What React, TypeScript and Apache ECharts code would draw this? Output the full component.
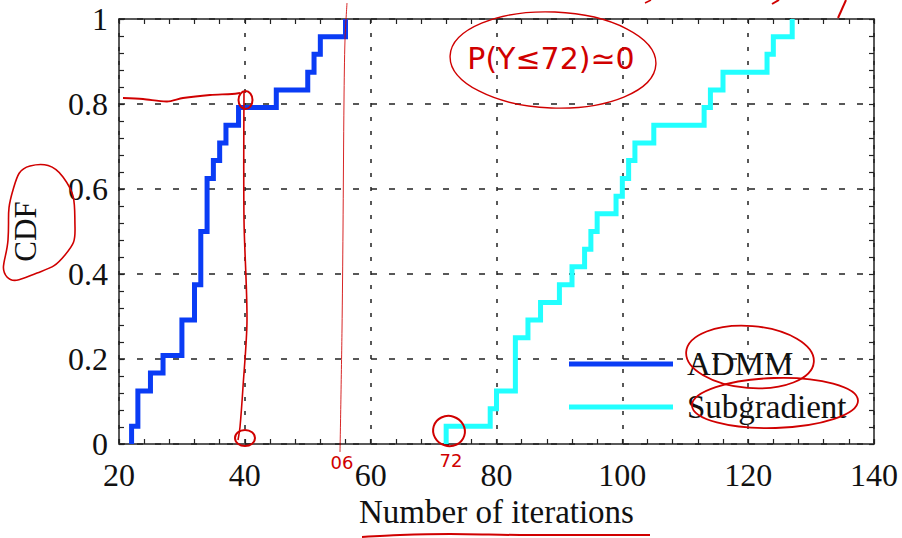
import React, { useEffect, useRef } from "react";
import * as echarts from "echarts";

// ---- data ----
const admmX = [22, 23, 25, 27, 30, 32, 33, 34, 35, 36, 37, 39, 45, 50, 51, 52, 56];
const admmCDF = [0.042, 0.125, 0.167, 0.208, 0.292, 0.375, 0.5, 0.625, 0.667, 0.708, 0.75, 0.792, 0.833, 0.875, 0.917, 0.958, 1];
const subX = [72, 79, 80, 83, 85, 87, 90, 92, 94, 95, 96, 99, 100, 101, 102, 105, 113, 114, 116, 123, 124, 127];
const subCDF = [0.042, 0.083, 0.125, 0.25, 0.292, 0.333, 0.375, 0.417, 0.458, 0.5, 0.542, 0.583, 0.625, 0.667, 0.708, 0.75, 0.792, 0.833, 0.875, 0.917, 0.958, 1];
const seriesNames = ["ADMM", "Subgradient"];
const xTitle = "Number of iterations";
const yTitle = "CDF";
const noteText = "P(Y≤72)≃0";
const noteA = "06";
const noteB = "72";

function stepPoints(xs: number[], ys: number[]) {
  const pts: number[][] = [];
  let prev = 0;
  for (let i = 0; i < xs.length; i++) {
    pts.push([xs[i], prev]);
    pts.push([xs[i], ys[i]]);
    prev = ys[i];
  }
  return pts;
}

const SERIF = "Liberation Serif";
const AX = "#222";
const RED = "#d00000";

export default function App() {
  const ref = useRef<HTMLDivElement>(null);
  useEffect(() => {
    if (!ref.current) return;
    const chart = echarts.init(ref.current, null, { renderer: "svg" });
    const baseX = {
      type: "value" as const,
      min: 20,
      max: 140,
      interval: 20,
      axisLine: { show: true, onZero: false, lineStyle: { color: AX, width: 1.5 } },
      axisTick: { show: true, inside: true, length: 5, lineStyle: { color: AX, width: 1.2 } },
      minorTick: { show: true, splitNumber: 5, length: 5, lineStyle: { color: AX, width: 1.2 } },
    };
    const baseY = {
      type: "value" as const,
      min: 0,
      max: 1,
      interval: 0.2,
      axisLine: { show: true, onZero: false, lineStyle: { color: AX, width: 1.5 } },
      axisTick: { show: true, inside: true, length: 5, lineStyle: { color: AX, width: 1.2 } },
      minorTick: { show: true, splitNumber: 5, length: 5, lineStyle: { color: AX, width: 1.2 } },
    };
    const redLine = (points: number[][], w = 1.8, extra: any = {}) => ({
      type: "polyline",
      z: 100,
      shape: { points, smooth: 0.3 },
      style: { stroke: RED, lineWidth: w, fill: null, ...extra },
    });
    const redEllipse = (cx: number, cy: number, rx: number, ry: number, rot = 0, w = 1.6) => ({
      type: "ellipse",
      z: 100,
      x: cx,
      y: cy,
      rotation: rot,
      shape: { cx: 0, cy: 0, rx, ry },
      style: { stroke: RED, lineWidth: w, fill: null },
    });
    const redText = (text: string, x: number, y: number, size: number) => ({
      type: "text",
      z: 100,
      x,
      y,
      style: {
        text,
        fill: RED,
        font: `${size}px "DejaVu Sans"`,
        align: "center",
        verticalAlign: "middle",
      },
    });
    const tickLabel = (margin: number) => ({
      margin,
      fontSize: 32,
      fontFamily: SERIF,
      color: "#111",
      formatter: (v: number) => `{s|${v}}`,
      rich: { s: { fontSize: 32, fontFamily: SERIF, color: "#111" } },
    });

    chart.setOption({
      animation: false,
      backgroundColor: "#ffffff",
      textStyle: { fontFamily: SERIF },
      grid: { left: 119, right: 28, top: 19, bottom: 94 },
      xAxis: [
        {
          ...baseX,
          position: "bottom",
          axisLabel: tickLabel(15),
          splitLine: { show: true, lineStyle: { color: AX, type: [4, 10], width: 1.5 } },
          name: xTitle,
          nameLocation: "middle",
          nameGap: 50,
          nameTextStyle: { fontSize: 33, fontFamily: SERIF, color: "#111" },
        },
        {
          ...baseX,
          position: "top",
          axisLabel: { show: false },
          splitLine: { show: false },
        },
      ],
      yAxis: [
        {
          ...baseY,
          position: "left",
          axisLabel: tickLabel(11),
          splitLine: { show: true, lineStyle: { color: AX, type: [6, 12], width: 1.5 } },
          name: yTitle,
          nameLocation: "middle",
          nameGap: 78,
          nameTextStyle: { fontSize: 31, fontFamily: SERIF, color: "#111" },
        },
        {
          ...baseY,
          position: "right",
          axisLabel: { show: false },
          splitLine: { show: false },
        },
      ],
      legend: [
        {
          data: [seriesNames[0]],
          left: 564,
          top: 342,
          icon: "rect",
          itemWidth: 104,
          itemHeight: 5,
          textStyle: { fontSize: 33, fontFamily: SERIF, color: "#111", lineHeight: 34, padding: [0, 0, 0, 9] },
        },
        {
          data: [seriesNames[1]],
          left: 564,
          top: 385,
          icon: "rect",
          itemWidth: 104,
          itemHeight: 5,
          textStyle: { fontSize: 33, fontFamily: SERIF, color: "#111", lineHeight: 34, padding: [0, 0, 0, 9] },
        },
      ],
      series: [
        {
          name: seriesNames[0],
          type: "line",
          data: stepPoints(admmX, admmCDF),
          showSymbol: false,
          color: "#0a3cf5",
          lineStyle: { width: 5, color: "#0a3cf5", cap: "butt", join: "miter" },
          clip: false,
          z: 5,
        },
        {
          name: seriesNames[1],
          type: "line",
          data: stepPoints(subX, subCDF),
          showSymbol: false,
          color: "#22ffff",
          lineStyle: { width: 5, color: "#22ffff", cap: "butt", join: "miter" },
          clip: false,
          z: 5,
        },
      ],
      graphic: [
        redLine([[123, 98], [143, 99], [167, 101.5], [183, 98], [210, 95], [232, 94], [240, 93]], 1.8),
        redEllipse(245.5, 100, 7, 9, 0, 2),
        redLine([[244, 92], [244, 220], [247, 320], [243, 387], [240, 427], [238, 440]], 1.6),
        redEllipse(245, 438, 10, 8, 0, 2),
        redLine([[347, 3], [345, 40], [344, 100], [343, 230], [342, 330], [340, 452]], 1, { opacity: 0.85 }),
        redText(noteA, 342, 462, 18),
        redText(noteB, 451, 460, 18),
        redEllipse(449, 431, 16, 15, -0.3, 2),
        redEllipse(553, 60, 103, 48, -0.04, 1.4),
        redText(noteText, 551, 58, 30),
        {
          type: "polygon",
          z: 100,
          shape: {
            points: [[30, 166], [63, 177], [75, 227], [65, 255], [37, 273], [7, 277], [8, 240], [13, 190]],
            smooth: 0.5,
          },
          style: { stroke: RED, lineWidth: 1.6, fill: null },
        },
        redEllipse(750, 357, 64, 31, -0.08, 1.8),
        redEllipse(775, 403, 83, 25, 0.03, 1.8),
        redLine([[362, 537], [400, 535], [450, 534], [520, 535], [600, 535], [650, 535]], 2),
        redLine([[645, 3], [651, 0]], 1.5),
        redLine([[772, 4], [779, 0]], 2),
        redLine([[838, 18], [846, 0]], 2),
      ],
    });
    return () => chart.dispose();
  }, []);
  return (
    <div
      ref={ref}
      style={{ position: "fixed", left: 0, top: 0, width: 902, height: 538, background: "#fff" }}
    />
  );
}
